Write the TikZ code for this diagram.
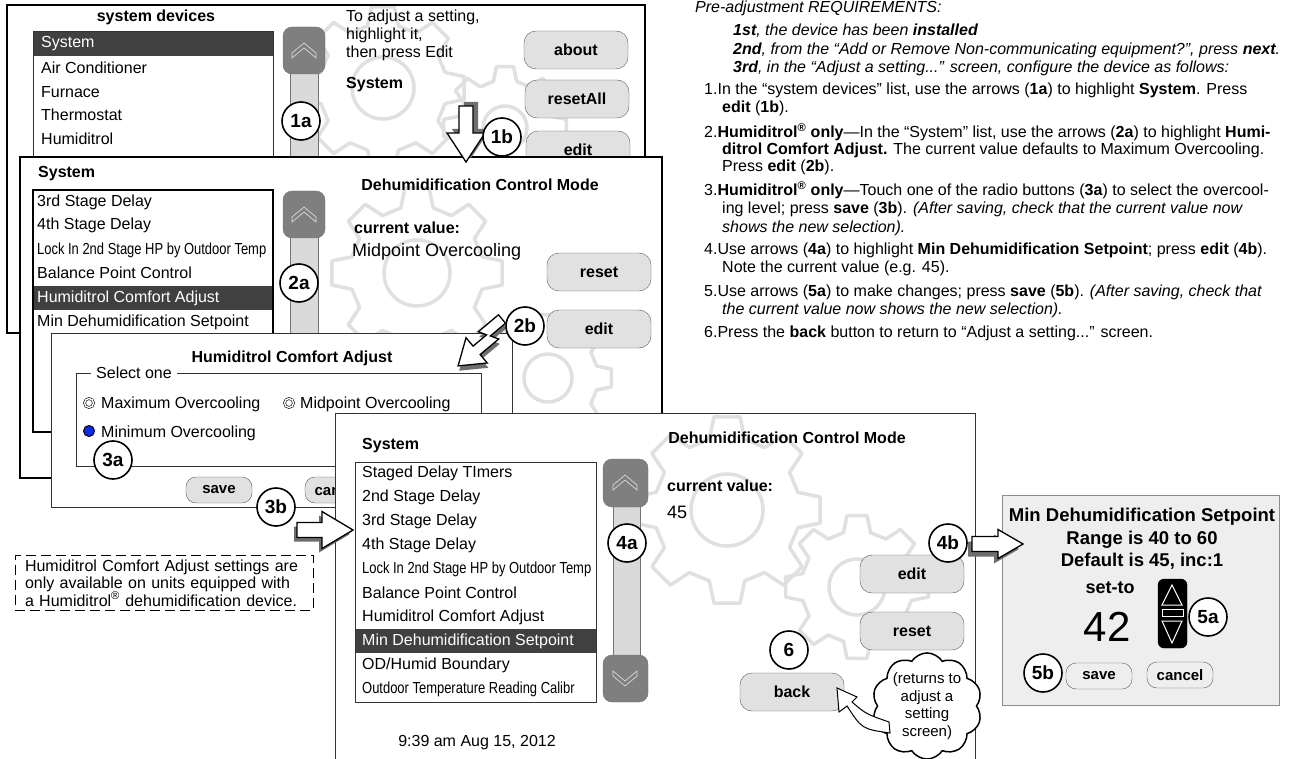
\documentclass[tikz,border=0pt]{standalone}
\usepackage{fontspec}
\setmainfont{Liberation Sans}
\usepackage{xcolor}
\usetikzlibrary{positioning,shapes.symbols,calc}

\definecolor{btngray}{HTML}{E1E1E1}
\definecolor{rowgray}{HTML}{404040}
\definecolor{knobgray}{HTML}{7F7F7F}
\definecolor{trackgray}{HTML}{DADADA}
\definecolor{geargray}{HTML}{E0E0E0}
\definecolor{panelgray}{HTML}{EEEEEE}
\definecolor{shadowgray}{HTML}{6E6E6E}
\definecolor{radioblue}{HTML}{0B2BE8}

% faint gear drawn behind a screen: centre x, centre y, outer, inner, hole
\newcommand{\gear}[5]{%
  \begin{scope}[shift={(#1,#2)}]
    \draw[gearline] (-31:#4) \foreach \k in {0,...,7} {
      -- ({45*\k-14}:#4) -- ({45*\k-8}:#3) -- ({45*\k+8}:#3) -- ({45*\k+14}:#4)} -- cycle;
    \draw[gearline] (0,0) circle[radius=#5];
  \end{scope}}

% 3D block arrow: tail, angle, length, shaft half, head half, head length, shadow shift
\newcommand{\blockarrow}[7]{%
  \begin{scope}[shift={#1}, shift={#7}, rotate=#2]
    \fill[shadowgray] (0,-#4) -- (#3-#6,-#4) -- (#3-#6,-#5) -- (#3,0) -- (#3-#6,#5) -- (#3-#6,#4) -- (0,#4) -- cycle;
  \end{scope}
  \begin{scope}[shift={#1}, rotate=#2]
    \draw[fill=white, line width=1.3pt, line join=miter] (0,-#4) -- (#3-#6,-#4) -- (#3-#6,-#5) -- (#3,0) -- (#3-#6,#5) -- (#3-#6,#4) -- (0,#4) -- cycle;
  \end{scope}}

% chevron on a scroll knob: x, y, 1 = up / -1 = down
\newcommand{\chevron}[3]{%
  \draw[chev, shift={(#1,#2)}, yscale=#3] (-12,3) -- (0,-7) -- (12,3) -- (12,8) -- (0,-2) -- (-12,8) -- cycle;}

\begin{document}
\begin{tikzpicture}[
    x=1pt, y=-1pt,
    screen/.style={draw=black, line width=1.2pt},
    listbox/.style={draw=black!80, line width=1pt},
    item/.style={anchor=west, inner sep=0pt, font=\fontsize{16}{18}\selectfont},
    narrow/.style={anchor=west, inner sep=0pt, font=\fontsize{16}{18}\selectfont, xscale=0.81},
    hdr/.style={inner sep=0pt, font=\fontsize{16}{18}\bfseries},
    btn/.style={draw=black!65, fill=btngray, rounded corners=12pt, minimum width=104pt, minimum height=38pt, font=\fontsize{16}{18}\bfseries},
    sbtn/.style={draw=black!65, fill=btngray, rounded corners=10pt, minimum width=66pt, minimum height=26pt, font=\fontsize{15}{17}\bfseries},
    tag/.style={circle, draw=black, fill=white, line width=1.6pt, minimum size=38pt, inner sep=0pt, font=\fontsize{19}{21}\bfseries},
    knob/.style={draw=black!55, fill=knobgray, rounded corners=9pt},
    track/.style={draw=black!55, fill=trackgray},
    chev/.style={draw=black!15, line width=0.7pt},
    gearline/.style={draw=geargray, line width=3.5pt, line join=round},
    radio/.style={circle, draw, double, double distance=1.4pt, line width=0.6pt, inner sep=0pt, minimum size=9pt},
    radioon/.style={circle, draw, fill=radioblue, line width=1pt, inner sep=0pt, minimum size=11pt},
    txt/.style={anchor=west, inner sep=0pt, font=\fontsize{16}{18}\selectfont},
    itxt/.style={anchor=west, inner sep=0pt, font=\fontsize{16}{18}\itshape}
]
    \clip (0,0) rectangle (1289,759);
    \fill[white] (0,0) rectangle (1289,759);

    % Screen 1: system devices
    \fill[white] (7,5) rectangle (645,333);
    \begin{scope}
        \clip (7,5) rectangle (645,333);
        \gear{383}{88}{82}{64}{31}
        \gear{505}{128}{62}{48}{22}
    \end{scope}
    \draw[screen] (7,5) rectangle (645,333);
    \node[hdr] (devtitle) at (156,17) {system devices};
    \fill[white] (33,32) rectangle (273,170);
    \fill[rowgray] (33,32) rectangle (273,56);
    \draw[listbox] (33,32) rectangle (273,170);
    \node[item, text=white] (dsystem) at (41,44) {System};
    \node[item] (dac) at (41,68) {Air Conditioner};
    \node[item] (dfurnace) at (41,92) {Furnace};
    \node[item] (dstat) at (41,115) {Thermostat};
    \node[item] (dhumid) at (41,139) {Humiditrol};
    \draw[track] (290,70) rectangle (318,170);
    \draw[knob] (283,27) rectangle (325,74);
    \chevron{304}{50}{1}
    \node[anchor=west, align=left, inner sep=0pt, font=\fontsize{16}{18}\selectfont] (hint) at (346,35) {To adjust a setting,\\highlight it,\\then press Edit};
    \node[hdr, anchor=west] (sys1) at (346,85) {System};
    \node[btn] (about) at (576,50) {about};
    \node[btn] (resetall) at (577,99) {resetAll};
    \node[btn] (edit1) at (578,150) {edit};

    % Screen 2: System list
    \fill[white] (20,157) rectangle (662,478);
    \begin{scope}
        \clip (20,157) rectangle (662,478);
        \gear{417}{273}{86}{67}{33}
        \gear{548}{378}{64}{50}{24}
    \end{scope}
    \draw[screen, line width=2pt] (20,157) rectangle (662,478);
    \node[hdr, anchor=west] (sys2) at (38,174) {System};
    \fill[white] (33,190) rectangle (273,432);
    \fill[rowgray] (33,286) rectangle (273,310);
    \draw[listbox, draw=black, line width=1.5pt] (33,190) rectangle (273,432);
    \node[item] (r3rd) at (37,202) {3rd Stage Delay};
    \node[item] (r4th) at (37,225) {4th Stage Delay};
    \node[narrow] (rlock) at (37,250) {Lock In 2nd Stage HP by Outdoor Temp};
    \node[item] (rbal) at (37,273) {Balance Point Control};
    \node[item, text=white] (rhca) at (37,298) {Humiditrol Comfort Adjust};
    \node[item] (rmin) at (37,322) {Min Dehumidification Setpoint};
    \draw[track] (290,236) rectangle (318,440);
    \draw[knob] (283,191) rectangle (325,238);
    \chevron{304}{214}{1}
    \node[hdr] (mode2) at (480,185) {Dehumidification Control Mode};
    \node[hdr, anchor=west] (cur2) at (354,228) {current value:};
    \node[anchor=west, inner sep=0pt, font=\fontsize{18}{20}\selectfont] (val2) at (352,252) {Midpoint Overcooling};
    \node[btn] (reset2) at (599,272) {reset};
    \node[btn] (edit2) at (599,329) {edit};

    % Dialog 3: Humiditrol Comfort Adjust
    \draw[fill=white, draw=black!80, line width=1pt] (51,333) rectangle (512,507);
    \node[hdr] (hcatitle) at (292,358) {Humiditrol Comfort Adjust};
    \draw[black!80, line width=0.8pt] (76,373) rectangle (481,466);
    \node[fill=white, inner xsep=5pt, inner ysep=1pt, font=\fontsize{16}{18}\selectfont] (selone) at (134,373) {Select one};
    \node[radio] (rmax) at (89,403) {};
    \node[item] (lmax) at (101,404) {Maximum Overcooling};
    \node[radio] (rmid) at (289,403) {};
    \node[item] (lmid) at (300,404) {Midpoint Overcooling};
    \node[radioon] (rmin) at (89,431) {};
    \node[item] (lmin) at (101,433) {Minimum Overcooling};
    \node[sbtn] (save3) at (219,490) {save};
    \node[sbtn] (cancel3) at (338,490) {cancel};

    % Screen 4: Min Dehumidification Setpoint highlighted
    \fill[white] (335,413) rectangle (975,770);
    \begin{scope}
        \clip (335,413) rectangle (975,770);
        \gear{727}{510}{94}{73}{36}
        \gear{857}{587}{72}{56}{28}
    \end{scope}
    \draw[screen, draw=black!80, line width=1pt] (335,413) rectangle (975,770);
    \node[hdr, anchor=west] (sys4) at (362,446) {System};
    \fill[white] (355,462) rectangle (596,702);
    \fill[rowgray] (355,629) rectangle (596,653);
    \draw[listbox] (355,462) rectangle (596,702);
    \node[item] (qstaged) at (362,473) {Staged Delay TImers};
    \node[item] (q2nd) at (362,497) {2nd Stage Delay};
    \node[item] (q3rd) at (362,521) {3rd Stage Delay};
    \node[item] (q4th) at (362,545) {4th Stage Delay};
    \node[narrow] (qlock) at (362,569) {Lock In 2nd Stage HP by Outdoor Temp};
    \node[item] (qbal) at (362,593) {Balance Point Control};
    \node[item] (qhca) at (362,617) {Humiditrol Comfort Adjust};
    \node[item, text=white] (qmin) at (362,641) {Min Dehumidification Setpoint};
    \node[item] (qod) at (362,665) {OD/Humid Boundary};
    \node[narrow] (qcal) at (362,689) {Outdoor Temperature Reading Calibr};
    \draw[track] (613,505) rectangle (640,657);
    \draw[knob] (603,459) rectangle (648,507);
    \chevron{625}{482}{1}
    \draw[knob] (603,655) rectangle (648,702);
    \chevron{625}{679}{-1}
    \node[hdr] (mode4) at (787,438) {Dehumidification Control Mode};
    \node[hdr, anchor=west] (cur4) at (667,486) {current value:};
    \node[anchor=west, inner sep=0pt, font=\fontsize{18}{20}\selectfont] (val4) at (667,512) {45};
    \node[btn] (edit4) at (912,574) {edit};
    \node[btn] (reset4) at (912,631) {reset};
    \node[btn] (back4) at (792,692) {back};
    \node[font=\fontsize{16}{18}\selectfont] (clock) at (477,743) {9:39 am Aug 15, 2012};

    % Set-to panel
    \draw[fill=panelgray, draw=black!45, line width=1pt] (1002,495) rectangle (1279,705);
    \node[align=center, inner sep=0pt, font=\fontsize{18.5}{22.5}\bfseries] (range) at (1142,539) {Min Dehumidification Setpoint\\Range is 40 to 60\\Default is 45, inc:1};
    \node[font=\fontsize{18}{20}\bfseries] (setto) at (1110,588) {set-to};
    \node[font=\fontsize{42}{44}\selectfont] (setval) at (1107,627) {42};
    \node[draw=black, fill=black, rounded corners=6pt, minimum width=29pt, minimum height=69pt] (spin) at (1172.5,613.5) {};
    \draw[white, line width=1pt] (1172,585) -- (1182,605) -- (1162,605) -- cycle;
    \draw[white, line width=1pt] (1162,609) rectangle (1183,616);
    \draw[white, line width=1pt] (1162,621) -- (1182,621) -- (1172,643) -- cycle;
    \node[sbtn, fill=panelgray] (save5) at (1099,676) {save};
    \node[sbtn, fill=panelgray] (cancel5) at (1180,675) {cancel};

    % Note
    \node[draw, dash pattern=on 10pt off 5pt, line width=0.8pt, align=left, text width=278pt, inner xsep=10pt, inner ysep=4pt, font=\fontsize{16}{17.5}\selectfont] (note) at (164,583) {Humiditrol Comfort Adjust settings are\\only available on units equipped with\\a Humiditrol\textsuperscript{®} dehumidification device.};

    % Instructions
    \node[itxt] (pre) at (695,8) {Pre-adjustment REQUIREMENTS:};
    \node[itxt] (req1) at (733,31) {\textbf{1st}, the device has been \textbf{installed}};
    \node[itxt] (req2) at (733,50) {\textbf{2nd}, from the “Add or Remove Non-communicating equipment?”, press \textbf{next}.};
    \node[itxt] (req3) at (733,68) {\textbf{3rd}, in the “Adjust a setting...” screen, configure the device as follows:};
    \node[txt] (s1a) at (704,90) {1.In the “system devices” list, use the arrows (\textbf{1a}) to highlight \textbf{System}. Press};
    \node[txt] (s1b) at (722,108) {\textbf{edit} (\textbf{1b}).};
    \node[txt] (s2a) at (704,132) {2.\textbf{Humiditrol\textsuperscript{®} only}—In the “System” list, use the arrows (\textbf{2a}) to highlight \textbf{Humi-}};
    \node[txt] (s2b) at (722,150) {\textbf{ditrol Comfort Adjust.} The current value defaults to Maximum Overcooling.};
    \node[txt] (s2c) at (722,167) {Press \textbf{edit} (\textbf{2b}).};
    \node[txt] (s3a) at (704,190) {3.\textbf{Humiditrol\textsuperscript{®} only}—Touch one of the radio buttons (\textbf{3a}) to select the overcool-};
    \node[txt] (s3b) at (722,209) {ing level; press \textbf{save} (\textbf{3b}). \textit{(After saving, check that the current value now}};
    \node[txt] (s3c) at (722,228) {\textit{shows the new selection).}};
    \node[txt] (s4a) at (704,250) {4.Use arrows (\textbf{4a}) to highlight \textbf{Min Dehumidification Setpoint}; press \textbf{edit} (\textbf{4b}).};
    \node[txt] (s4b) at (722,268) {Note the current value (e.g. 45).};
    \node[txt] (s5a) at (704,292) {5.Use arrows (\textbf{5a}) to make changes; press \textbf{save} (\textbf{5b}). \textit{(After saving, check that}};
    \node[txt] (s5b) at (722,310) {\textit{the current value now shows the new selection).}};
    \node[txt] (s6) at (704,333) {6.Press the \textbf{back} button to return to “Adjust a setting...” screen.};

    % Block arrows
    \blockarrow{(466,106)}{-90}{56}{7}{19}{29}{(5,-4)}
    \blockarrow{(297,530)}{0}{56}{7.5}{18.5}{31}{(-3,4)}
    \blockarrow{(972,544)}{0}{51}{7.5}{14.5}{25}{(-4,5)}
    \begin{scope}[shift={(502,319)}, rotate=220, scale=1.1]
        \fill[shadowgray, shift={(2,-4)}] (0,5) -- (24,5) -- (20,-2) -- (36,-2) -- (36,8) -- (58,-7) -- (36,-22) -- (36,-12) -- (14,-12) -- (18,-5) -- (0,-5) -- cycle;
        \draw[fill=white, line width=1.3pt] (0,5) -- (24,5) -- (20,-2) -- (36,-2) -- (36,8) -- (58,-7) -- (36,-22) -- (36,-12) -- (14,-12) -- (18,-5) -- (0,-5) -- cycle;
    \end{scope}

    % Step tags
    \node[tag] (t1a) at (301,121) {1a};
    \node[tag] (t1b) at (502,137) {1b};
    \node[tag] (t2a) at (299,283) {2a};
    \node[tag] (t2b) at (525,326) {2b};
    \node[tag] (t3a) at (113,460) {3a};
    \node[tag] (t3b) at (276,507) {3b};
    \node[tag] (t4a) at (627,543) {4a};
    \node[tag] (t4b) at (948,543) {4b};
    \node[tag] (t5a) at (1208,617) {5a};
    \node[tag] (t5b) at (1043,673) {5b};
    \node[tag] (t6) at (789,650) {6};

    % Callout
    \node[cloud, cloud puffs=10, cloud puff arc=115, aspect=1.05, draw, fill=white, line width=1.5pt, inner sep=0pt, minimum width=110pt, minimum height=104pt, align=center, font=\fontsize{15}{17.5}\selectfont] (note6) at (927,706) {(returns to\\adjust a\\setting\\screen)};
    \draw[fill=white, line width=1pt] (837,688) -- (857,697) -- (852,702) .. controls (866,714) .. (889,722) -- (890,733) .. controls (862,729) .. (847,706) -- (839,712) -- cycle;

\end{tikzpicture}
\end{document}
